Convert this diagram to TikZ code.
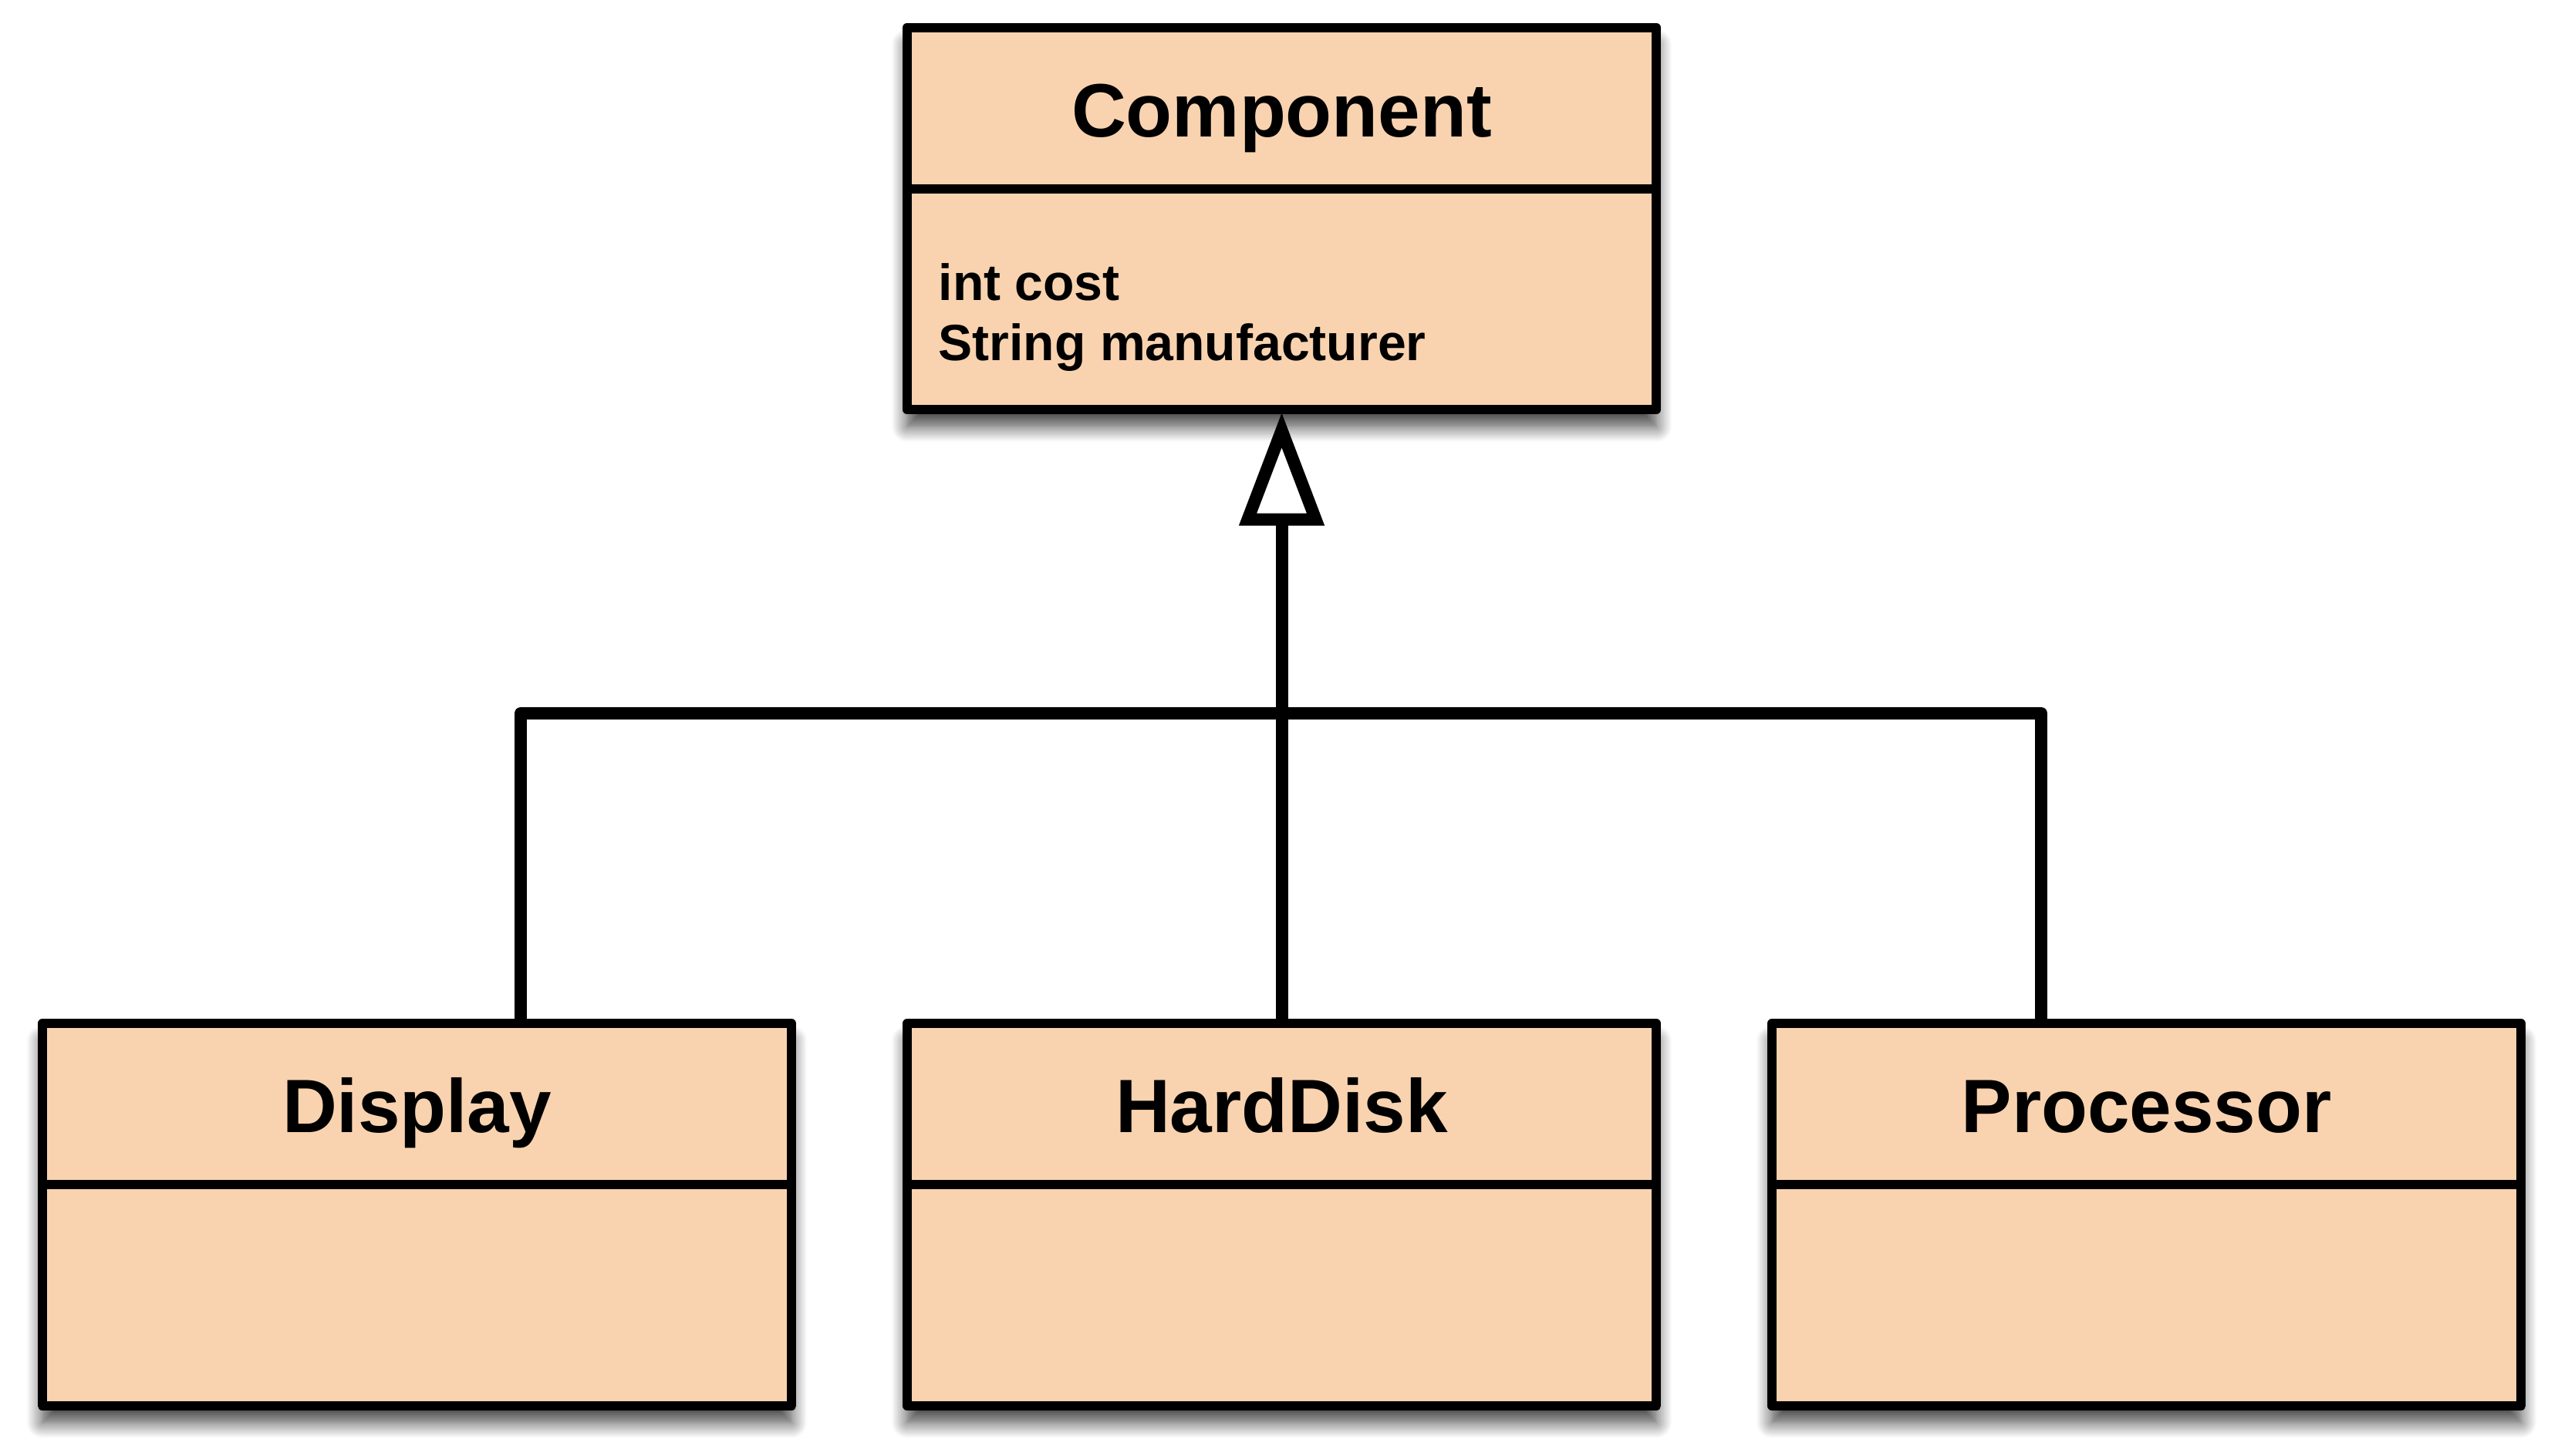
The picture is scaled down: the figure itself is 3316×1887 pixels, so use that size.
\documentclass[tikz,border=0pt]{standalone}
\usepackage{fontspec}
\setmainfont{Liberation Sans}
\usetikzlibrary{shadows.blur,calc}
\definecolor{boxfill}{RGB}{249,211,175}
\begin{document}
\begin{tikzpicture}[x=0.01cm,y=-0.01cm,
  classbox/.style={draw=black, fill=boxfill, line width=0.12cm, line join=round,
    minimum width=9.71cm, minimum height=4.95cm, inner sep=0pt, outer sep=0pt,
    blur shadow={shadow xshift=0cm, shadow yshift=-0.22cm, shadow blur radius=0.2cm, shadow opacity=75, shadow blur steps=12}},
  titletext/.style={font=\fontsize{27.9pt}{32pt}\selectfont\bfseries, inner sep=0pt, anchor=base},
  attrtext/.style={font=\fontsize{18.8pt}{22pt}\selectfont\bfseries, inner sep=0pt, anchor=base west},
  divider/.style={line width=0.12cm},
  conn/.style={line width=0.16cm, line join=round},
  headtip/.style={line width=0.16cm, line join=miter, fill=white},
]
\useasboundingbox (0,0) rectangle (3316,1887);

% class boxes
\node[classbox] (comp) at (1661.5,283.5) {};
\node[classbox] (disp) at (540.5,1575) {};
\node[classbox] (hd)   at (1661.5,1575) {};
\node[classbox] (proc) at (2782.5,1575) {};

% dividers
\foreach \b in {comp,disp,hd,proc}{
  \draw[divider] ($(\b.north west)+(0,209)$) -- ($(\b.north east)+(0,209)$);
}

% titles
\node[titletext] (comptitle) at (1661.5,177) {Component};
\node[titletext] (disptitle) at (540.5,1468) {Display};
\node[titletext] (hdtitle)   at (1661.5,1468) {HardDisk};
\node[titletext] (proctitle) at (2782.5,1468) {Processor};

% attributes
\node[attrtext] (attr1) at (1216,389) {int cost};
\node[attrtext] (attr2) at (1216,467) {String manufacturer};

% connectors
\coordinate (jl) at (675,925);
\coordinate (jr) at (2646,925);
\coordinate (tb) at (1661.5,673.5);
\coordinate (tl) at (1617.5,673.5);
\coordinate (tr) at (1705.5,673.5);
\coordinate (ta) at (1661.5,558);

\draw[conn] (disp.north -| jl) -- (jl) -- (jr) -- (proc.north -| jr);
\draw[conn] (hd.north) -- (tb);
\draw[headtip] (tl) -- (ta) -- (tr) -- cycle;
\end{tikzpicture}
\end{document}
